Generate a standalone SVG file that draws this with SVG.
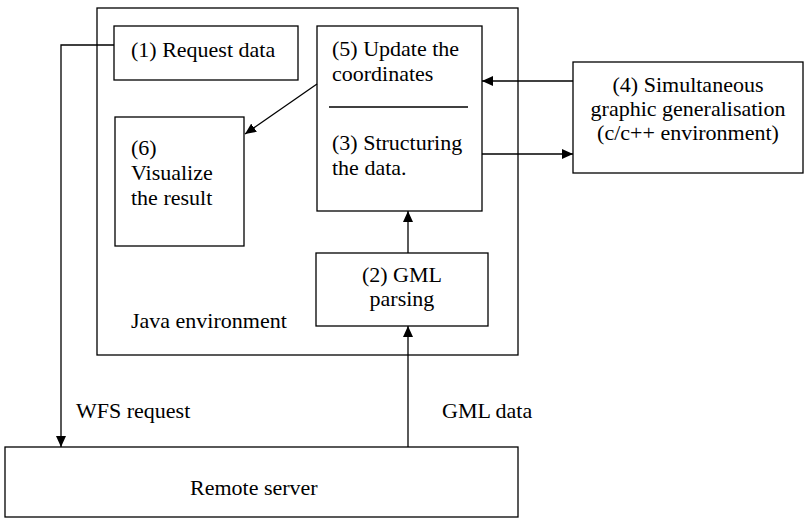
<svg xmlns="http://www.w3.org/2000/svg" width="805" height="520" viewBox="0 0 805 520">
  <style>
    .box { fill: #fff; stroke: #000; stroke-width: 1.3; }
    .frame { fill: none; stroke: #000; stroke-width: 1.3; }
    .line { fill: none; stroke: #000; stroke-width: 1.3; }
    text { font-family: 'Liberation Serif', 'Times New Roman', 'DejaVu Serif', serif; font-size: 22px; fill: #000; }
    .mid { text-anchor: middle; }
  </style>
  <defs>
    <marker id="arrow" markerUnits="userSpaceOnUse" markerWidth="12" markerHeight="10" refX="11" refY="5" orient="auto">
      <path d="M0,0 L11,5 L0,10 Z" fill="#000"/>
    </marker>
  </defs>
  <rect width="805" height="520" fill="#fff"/>

  <!-- Java environment frame -->
  <g id="java-env">
    <rect class="frame" x="97" y="8" width="421" height="347"/>
    <text x="131" y="328" font-family="Liberation Serif, serif">Java environment</text>
  </g>

  <g id="request-data">
    <rect class="box" x="114" y="26" width="184" height="54"/>
    <text x="131" y="57" font-family="Liberation Serif, serif">(1) Request data</text>
  </g>

  <g id="update-structure">
    <rect class="box" x="317" y="26" width="165" height="185"/>
    <line class="line" x1="329" y1="107" x2="468" y2="107"/>
    <text x="332" y="56">(5) Update the</text>
    <text x="332" y="81">coordinates</text>
    <text x="332" y="150">(3) Structuring</text>
    <text x="332" y="175">the data.</text>
  </g>

  <g id="visualize">
    <rect class="box" x="115" y="117" width="129" height="129"/>
    <text x="131" y="155">(6)</text>
    <text x="131" y="180">Visualize</text>
    <text x="131" y="205">the result</text>
  </g>

  <g id="gml-parsing">
    <rect class="box" x="316" y="253" width="172" height="73"/>
    <text class="mid" x="402" y="282">(2) GML</text>
    <text class="mid" x="402" y="306">parsing</text>
  </g>

  <g id="generalisation">
    <rect class="box" x="573" y="62" width="230" height="111"/>
    <text class="mid" x="688" y="92">(4) Simultaneous</text>
    <text class="mid" x="688" y="116">graphic generalisation</text>
    <text class="mid" x="688" y="140">(c/c++ environment)</text>
  </g>

  <g id="remote-server">
    <rect class="box" x="5" y="447" width="513" height="70"/>
    <text x="190" y="495">Remote server</text>
  </g>

  <!-- connectors -->
  <g id="connectors">
    <path class="line" d="M114,45 H61 V447" marker-end="url(#arrow)"/>
    <path class="line" d="M408,447 V326" marker-end="url(#arrow)"/>
    <path class="line" d="M408,253 V211" marker-end="url(#arrow)"/>
    <path class="line" d="M482,154 H573" marker-end="url(#arrow)"/>
    <path class="line" d="M573,81 H482" marker-end="url(#arrow)"/>
    <path class="line" d="M317,84 L245,134" marker-end="url(#arrow)"/>
    <text x="76" y="418">WFS request</text>
    <text x="442" y="418">GML data</text>
  </g>
</svg>
